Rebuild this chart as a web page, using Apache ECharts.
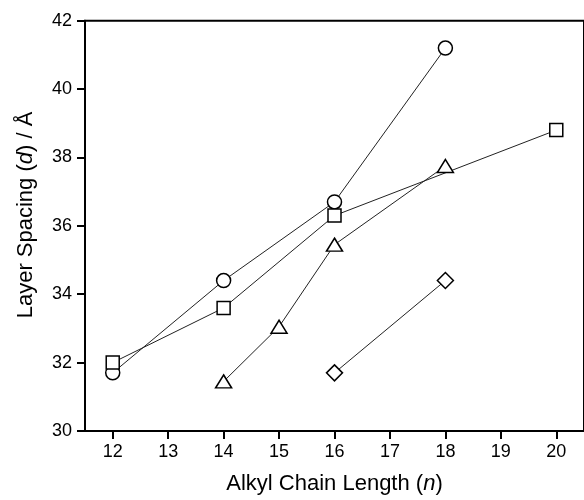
<!DOCTYPE html>
<html>
<head>
<meta charset="utf-8">
<script src="https://cdn.jsdelivr.net/npm/echarts@6/dist/echarts.min.js"></script>
<style>html,body{margin:0;padding:0;background:#fff}#c{width:584px;height:500px}</style>
</head>
<body>
<div id="c"></div>
<script>
var xTicks = [12, 13, 14, 15, 16, 17, 18, 19, 20];
var circleX = [12, 14, 16, 18];
var circleY = [31.7, 34.4, 36.7, 41.2];
var squareX = [12, 14, 16, 20];
var squareY = [32.0, 33.6, 36.3, 38.8];
var triangleX = [14, 15, 16, 18];
var triangleY = [31.45, 33.05, 35.45, 37.75];
var diamondX = [16, 18];
var diamondY = [31.7, 34.4];

function pairs(xs, ys) { return xs.map(function (x, i) { return [x, ys[i]]; }); }

var font = 'Liberation Sans, Arial, sans-serif';
function mk(name, xs, ys, symbol, size) {
  return {
    name: name, type: 'line', data: pairs(xs, ys),
    symbol: symbol, symbolSize: size, showAllSymbol: true,
    lineStyle: { color: '#222', width: 1 },
    itemStyle: { color: '#fff', borderColor: '#000', borderWidth: 1.5 },
    emphasis: { disabled: true }, z: 3
  };
}

var chart = echarts.init(document.getElementById('c'), null, { renderer: 'canvas' });
chart.setOption({
  animation: false,
  backgroundColor: '#fff',
  grid: { left: 85, right: -7, top: 20.7, bottom: 65.7, show: true, borderColor: '#000', borderWidth: 2, backgroundColor: 'transparent' },
  xAxis: {
    type: 'value', min: 11.5, max: 20.5,
    name: '{a|Alkyl Chain Length (}{i|n}{a|)}', nameLocation: 'middle', nameGap: 42,
    nameTextStyle: { rich: { a: { fontSize: 22, fontFamily: font, color: '#000' }, i: { fontSize: 22, fontFamily: font, fontStyle: 'italic', color: '#000' } } },
    axisLine: { show: true, lineStyle: { color: '#000', width: 2 } },
    axisTick: { show: true, customValues: xTicks, length: 8, lineStyle: { color: '#000', width: 2 } },
    axisLabel: { customValues: xTicks, fontSize: 18, fontFamily: font, color: '#000', margin: 12 },
    splitLine: { show: false }
  },
  yAxis: {
    type: 'value', min: 30, max: 42, interval: 2,
    axisLine: { show: true, lineStyle: { color: '#000', width: 2 } },
    axisTick: { show: true, length: 8, lineStyle: { color: '#000', width: 2 } },
    axisLabel: { fontSize: 18, fontFamily: font, color: '#000', margin: 13 },
    splitLine: { show: false }
  },
  graphic: [{
    type: 'text', x: 26, y: 215, rotation: Math.PI / 2,
    style: {
      text: '{a|Layer Spacing (}{i|d}{a|) / Å}',
      align: 'center', verticalAlign: 'middle',
      rich: { a: { fontSize: 22, fontFamily: font, fill: '#000' }, i: { fontSize: 22, fontFamily: font, fontStyle: 'italic', fill: '#000' } }
    }
  }],
  series: [
    mk('circle', circleX, circleY, 'circle', 14),
    mk('square', squareX, squareY, 'rect', 13),
    mk('triangle', triangleX, triangleY, 'triangle', [16, 13]),
    mk('diamond', diamondX, diamondY, 'diamond', [16, 16])
  ]
});
</script>
</body>
</html>
